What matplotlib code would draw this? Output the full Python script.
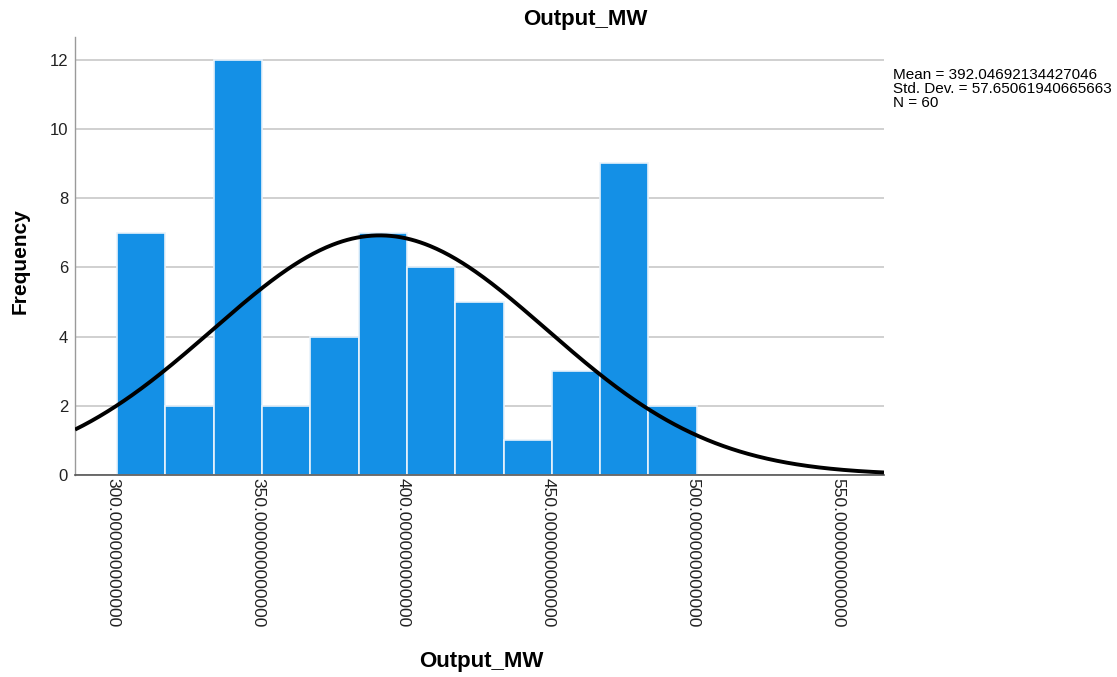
import numpy as np
import matplotlib
matplotlib.use("Agg")
import matplotlib.pyplot as plt

plt.rcParams['font.family'] = ['Liberation Sans', 'DejaVu Sans']

# Data
counts = [7, 2, 12, 2, 4, 7, 6, 5, 1, 3, 9, 2]
bin_start = 301.4
bin_width = 16.667
mean = 392.04692134427046
std = 57.65061940665663
n = 60
xticks = [300, 350, 400, 450, 500, 550]
yticks = [0, 2, 4, 6, 8, 10, 12]
title = "Output_MW"

fig = plt.figure(figsize=(11.17, 6.77), dpi=100)
ax = fig.add_axes([75/1117, 1-475/677, (884-75)/1117, (475-37)/677])

lefts = bin_start + bin_width*np.arange(len(counts))
ax.bar(lefts, counts, width=bin_width, align='edge', color='#1490E6',
       edgecolor='#E8F2FB', linewidth=1.2, zorder=2)

xlo, xhi = 286.9, 566.0
xs = np.linspace(xlo, xhi, 500)
ys = n*bin_width/(std*np.sqrt(2*np.pi))*np.exp(-0.5*((xs-mean)/std)**2)
ax.plot(xs, ys, color='black', lw=2.8, zorder=3, solid_capstyle='butt')

ax.set_xlim(xlo, xhi)
ax.set_ylim(0, 12.65)
ax.set_yticks(yticks)
ax.set_xticks(xticks)
ax.set_xticklabels([f"{v:.12f}" for v in xticks], rotation=-90, fontsize=12.5, color='#222222')
ax.set_yticklabels([str(v) for v in yticks], fontsize=12, color='#222222')
ax.tick_params(axis='x', length=0, pad=2)
ax.tick_params(axis='y', length=0, pad=5)
ax.yaxis.grid(True, color='#c8c8c8', lw=1.2, zorder=0)
ax.set_axisbelow(True)
for s in ['top', 'right']:
    ax.spines[s].set_visible(False)
ax.spines['left'].set_color('#9a9a9a')
ax.spines['bottom'].set_color('#555555')
ax.spines['left'].set_linewidth(1.0)
ax.spines['bottom'].set_linewidth(1.2)

fig.text(585/1117, 1-20/677, title, ha='center', va='center', fontsize=16,
         fontweight='bold')
fig.text(481/1117, 1-662/677, "Output_MW", ha='center', va='center', fontsize=16,
         fontweight='bold')
fig.text(20/1117, 1-261/677, "Frequency", ha='center', va='center', rotation=90,
         fontsize=15, fontweight='bold')
fig.text(893/1117, 1-68/677, f"Mean = {mean!r}\nStd. Dev. = {std!r}\nN = {n}",
         ha='left', va='top', fontsize=11, linespacing=1.0)

fig.savefig("out.png", dpi=100)
